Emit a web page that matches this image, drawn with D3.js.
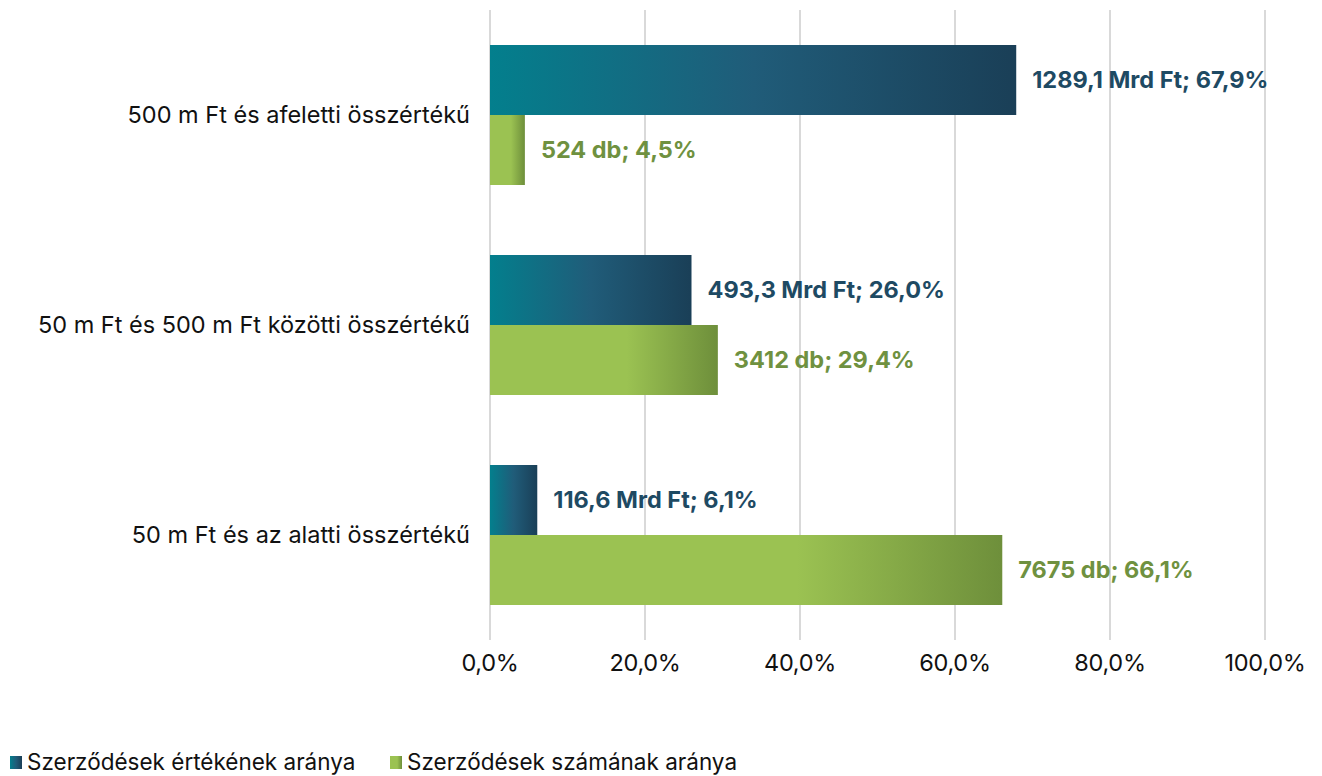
<!DOCTYPE html>
<html lang="hu">
<head>
<meta charset="UTF-8">
<title>Szerződések</title>
<script src="https://cdn.jsdelivr.net/npm/d3@7"></script>
<style>
  body { margin: 0; background: #fff; font-family: Inter, "Noto Sans", sans-serif; }
  svg text { font-family: Inter, "Noto Sans", sans-serif; }
</style>
</head>
<body>
<svg id="chart" width="1322" height="776"></svg>
<script>
// data
const categories = ["500 m Ft és afeletti összértékű", "50 m Ft és 500 m Ft közötti összértékű", "50 m Ft és az alatti összértékű"];
const seriesNames = ["Szerződések értékének aránya", "Szerződések számának aránya"];
const valueShare = [67.9, 26.0, 6.1];
const countShare = [4.5, 29.4, 66.1];
const valueLabels = ["1289,1 Mrd Ft; 67,9%", "493,3 Mrd Ft; 26,0%", "116,6 Mrd Ft; 6,1%"];
const countLabels = ["524 db; 4,5%", "3412 db; 29,4%", "7675 db; 66,1%"];
const ticks = [0, 20, 40, 60, 80, 100];

const svg = d3.select("#chart");
const margin = { top: 10, left: 490, right: 57, bottom: 136 };
const W = 1322, H = 776;

const x = d3.scaleLinear().domain([0, 100]).range([margin.left, W - margin.right]);
const y = d3.scaleBand().domain(categories).range([margin.top, H - margin.bottom]);
const sub = d3.scaleBand().domain([0, 1]).range([0, 140]);

const defs = svg.append("defs");
const gBlue = defs.append("linearGradient").attr("id", "gBlue");
[[0, "#037f8d"], [0.5, "#205c79"], [1, "#1a3f57"]].forEach(s =>
  gBlue.append("stop").attr("offset", s[0]).attr("stop-color", s[1]));
const gGreen = defs.append("linearGradient").attr("id", "gGreen");
[[0, "#9bc252"], [0.6, "#9bc252"], [1, "#6e8f3b"]].forEach(s =>
  gGreen.append("stop").attr("offset", s[0]).attr("stop-color", s[1]));

// gridlines
svg.append("g").selectAll("line").data(ticks).join("line")
  .attr("x1", d => x(d)).attr("x2", d => x(d))
  .attr("y1", margin.top).attr("y2", H - margin.bottom)
  .attr("stroke", "#d9d9d9").attr("stroke-width", 2);

// x tick labels
svg.append("g").selectAll("text").data(ticks).join("text")
  .attr("x", d => x(d)).attr("y", 663).attr("dy", "0.35em")
  .attr("text-anchor", "middle")
  .attr("font-size", 23.5).attr("letter-spacing", -0.3).attr("fill", "#111")
  .text(d => d3.format(".1f")(d).replace(".", ",") + "%");

// category labels
svg.append("g").selectAll("text").data(categories).join("text")
  .attr("x", 470).attr("y", d => y(d) + y.bandwidth() / 2)
  .attr("dy", "0.35em").attr("text-anchor", "end")
  .attr("font-size", 23.5).attr("fill", "#111")
  .text(d => d);

const off = (y.bandwidth() - 140) / 2;
const series = [
  { vals: valueShare, labels: valueLabels, fill: "url(#gBlue)", color: "#1e4a63" },
  { vals: countShare, labels: countLabels, fill: "url(#gGreen)", color: "#6f9140" }
];

series.forEach((s, si) => {
  const g = svg.append("g");
  g.selectAll("rect").data(categories).join("rect")
    .attr("x", x(0))
    .attr("y", d => y(d) + off + sub(si))
    .attr("width", (d, i) => x(s.vals[i]) - x(0))
    .attr("height", sub.bandwidth())
    .attr("fill", s.fill);
  g.selectAll("text").data(categories).join("text")
    .attr("x", (d, i) => x(s.vals[i]) + 16)
    .attr("y", d => y(d) + off + sub(si) + sub.bandwidth() / 2)
    .attr("dy", "0.35em")
    .attr("font-size", 23.5).attr("font-weight", 700)
    .attr("fill", s.color)
    .text((d, i) => s.labels[i]);
});

// legend
const legendX = [10, 390];
const lg = svg.append("g");
seriesNames.forEach((n, i) => {
  lg.append("rect").attr("x", legendX[i]).attr("y", 756).attr("width", 12).attr("height", 13)
    .attr("fill", i === 0 ? "url(#gBlue)" : "url(#gGreen)");
  lg.append("text").attr("x", legendX[i] + 17).attr("y", 762).attr("dy", "0.35em")
    .attr("font-size", 22.5).attr("fill", "#111").text(n);
});
</script>
</body>
</html>
